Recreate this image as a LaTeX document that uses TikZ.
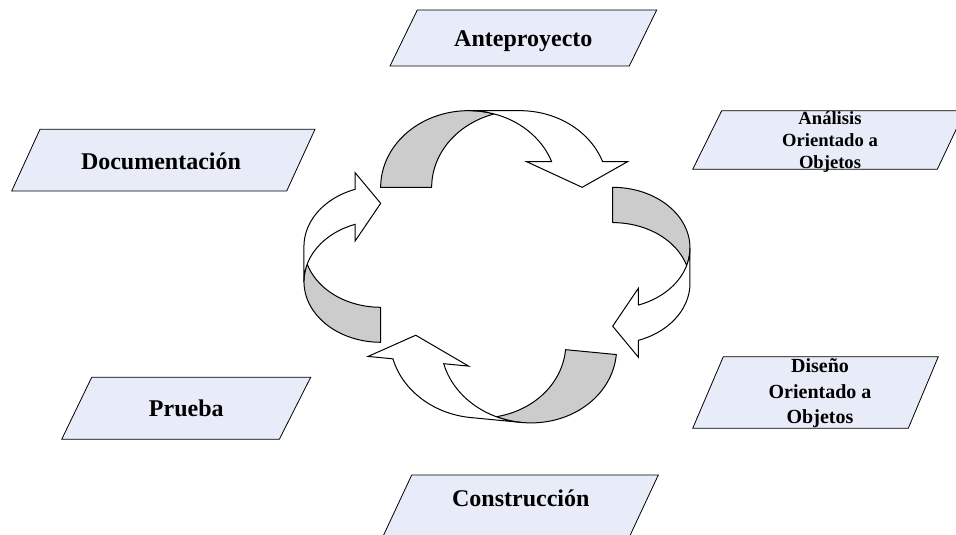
\documentclass[tikz,border=0pt]{standalone}
\usepackage{fontspec}
\setmainfont{Liberation Serif}
\definecolor{boxfill}{RGB}{231,236,248}
\definecolor{bandgray}{RGB}{204,204,204}
\tikzset{
  para/.style={draw=black, line width=0.8pt, fill=boxfill, line join=miter},
  lbl/.style={font=\bfseries\fontsize{24}{28}\selectfont, inner sep=0pt, anchor=base},
  albl/.style={font=\bfseries\fontsize{18.6}{22}\selectfont, inner sep=0pt, anchor=base},
  dlbl/.style={font=\bfseries\fontsize{20}{25}\selectfont, inner sep=0pt, anchor=base},
  bandback/.style={draw=black, line width=1pt, fill=bandgray, line join=round},
  bandfront/.style={draw=black, line width=1pt, fill=white, line join=miter},
}
% ox, oy, phi (screen clockwise), A, B, T, W, D
\newcommand{\cyclearrow}[8]{%
 \begin{scope}[shift={(#1,#2)}, rotate=-#3]
  \pgfmathsetmacro{\cah}{#6/2}
  \pgfmathsetmacro{\cac}{acos(\cah/#4)}
  \pgfmathsetmacro{\caw}{asin(#7/#5)}
  \pgfmathsetmacro{\cawx}{#4*cos(\caw)}
  \pgfmathsetmacro{\cstart}{\cac-180}
  \path[bandback] plot[domain=-180:-\cac, samples=70, variable=\t] ({-\cah+#4*cos(\t)},{#5*sin(\t)})
     -- plot[domain=\cstart:-180, samples=70, variable=\t] ({\cah+#4*cos(\t)},{#5*sin(\t)}) -- cycle;
  \path[bandfront] plot[domain=-\caw:-90, samples=70, variable=\t] ({-\cah+#4*cos(\t)},{#5*sin(\t)})
     -- plot[domain=-90:-\caw, samples=70, variable=\t] ({\cah+#4*cos(\t)},{#5*sin(\t)})
     -- ({\cah+\cawx+#8},{-#7}) -- (#4,0) -- ({-\cah+\cawx-#8},{-#7}) -- cycle;
 \end{scope}}
\begin{document}
\begin{tikzpicture}[x=1pt, y=-1pt]
\clip (0,0) rectangle (956,535);
\fill[white] (0,0) rectangle (956,535);

% parallelograms
\path[para] (417.3,10) -- (656.7,10) -- (629.3,66) -- (390,66) -- cycle;
\path[para] (721.7,110.7) -- (965,110.7) -- (937.3,169.3) -- (692.7,169.3) -- cycle;
\path[para] (723.3,356.7) -- (938.3,356.7) -- (908.3,428.3) -- (692.7,428.3) -- cycle;
\path[para] (40,129.3) -- (315,129.3) -- (286.7,191) -- (11.7,191) -- cycle;
\path[para] (91.7,377.3) -- (310.7,377.3) -- (279.3,439.3) -- (61.7,439.3) -- cycle;
\path[para] (411.7,475) -- (658.3,475) -- (629.3,537) -- (382.7,537) -- cycle;

% labels
\node[lbl] (ante) at (523.3,46.7) {Anteproyecto};
\node[lbl] (docu) at (161,169.3) {Documentación};
\node[lbl] (prue) at (186.3,416.7) {Prueba};
\node[lbl] (cons) at (520.8,506.7) {Construcción};
\node[albl] (ana1) at (830,124) {Análisis};
\node[albl] (ana2) at (830,146.5) {Orientado a};
\node[albl] (ana3) at (830,168.5) {Objetos};
\node[dlbl] (dis1) at (820,372.7) {Diseño};
\node[dlbl] (dis2) at (820,398.3) {Orientado a};
\node[dlbl] (dis3) at (820,423.3) {Objetos};

% cycle arrows
\cyclearrow{494.17}{187.33}{0}{88}{76.67}{51}{25.67}{25}
\cyclearrow{612.67}{265.57}{90}{60.6}{77.3}{35.3}{25.67}{16.8}
\cyclearrow{503.33}{343.67}{185.5}{88}{76.67}{51}{25.67}{25}
\cyclearrow{380.67}{264.07}{270}{60.7}{76.7}{35}{25.67}{16.8}
\end{tikzpicture}
\end{document}
